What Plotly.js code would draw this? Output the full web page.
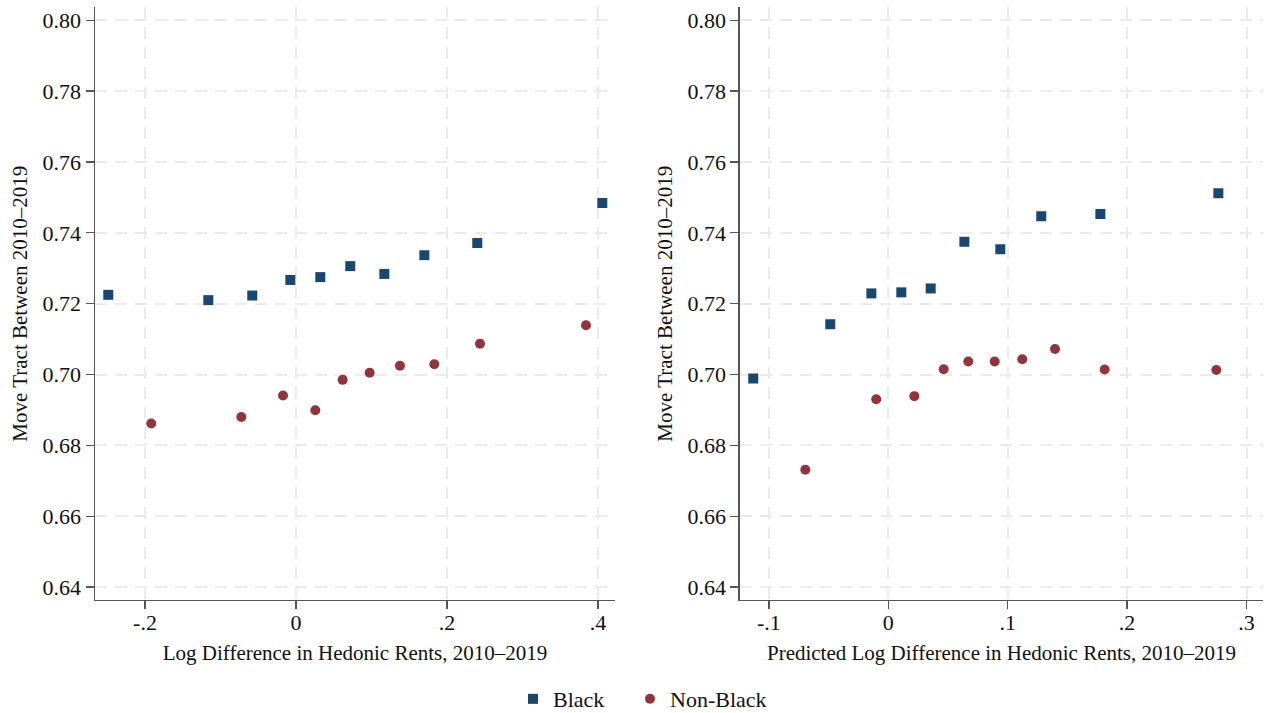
<!DOCTYPE html>
<html>
<head>
<meta charset="utf-8">
<script src="https://cdn.plot.ly/plotly-3.0.1.min.js"></script>
<style>html,body{margin:0;padding:0;background:#fff;}#chart{width:1264px;height:713px;}</style>
</head>
<body>
<div id="chart"></div>
<script>
// Left panel: Log Difference in Hedonic Rents
const leftBlackX = [-0.2486, -0.1161, -0.0579, -0.0075, 0.0322, 0.0719, 0.1170, 0.1700, 0.2401, 0.4057];
const leftBlackY = [0.7225, 0.7210, 0.7223, 0.7267, 0.7275, 0.7306, 0.7284, 0.7337, 0.7371, 0.7484];
const leftNonBlackX = [-0.1917, -0.0724, -0.0172, 0.0256, 0.0618, 0.0976, 0.1377, 0.1832, 0.2437, 0.3841];
const leftNonBlackY = [0.6862, 0.6880, 0.6941, 0.6899, 0.6985, 0.7005, 0.7025, 0.7029, 0.7087, 0.7139];

// Right panel: Predicted Log Difference in Hedonic Rents
const rightBlackX = [-0.1131, -0.0486, -0.0142, 0.0109, 0.0355, 0.0637, 0.0938, 0.1281, 0.1776, 0.2764];
const rightBlackY = [0.6989, 0.7142, 0.7229, 0.7232, 0.7243, 0.7375, 0.7354, 0.7447, 0.7453, 0.7512];
const rightNonBlackX = [-0.0695, -0.0101, 0.0218, 0.0464, 0.0670, 0.0891, 0.1122, 0.1396, 0.1812, 0.2747];
const rightNonBlackY = [0.6731, 0.6930, 0.6939, 0.7015, 0.7037, 0.7037, 0.7043, 0.7072, 0.7014, 0.7013];

const yTickVals = [0.64, 0.66, 0.68, 0.70, 0.72, 0.74, 0.76, 0.78, 0.80];
const yTickText = ["0.64", "0.66", "0.68", "0.70", "0.72", "0.74", "0.76", "0.78", "0.80"];
const leftXTickVals = [-0.2, 0, 0.2, 0.4];
const leftXTickText = ["-.2", "0", ".2", ".4"];
const rightXTickVals = [-0.1, 0, 0.1, 0.2, 0.3];
const rightXTickText = ["-.1", "0", ".1", ".2", ".3"];

const seriesNames = ["Black", "Non-Black"];
const yTitle = "Move Tract Between 2010\u20132019";
const leftXTitle = "Log Difference in Hedonic Rents, 2010\u20132019";
const rightXTitle = "Predicted Log Difference in Hedonic Rents, 2010\u20132019";

const navy = "#1a476f";
const maroon = "#90353b";
const FONT = "'Liberation Serif', 'Times New Roman', serif";

const sqMarker = {symbol: "square", size: 10, color: navy};
const ciMarker = {symbol: "circle", size: 10, color: maroon};

const traces = [
  {x: leftBlackX, y: leftBlackY, type: "scatter", mode: "markers", name: seriesNames[0], marker: sqMarker, xaxis: "x", yaxis: "y", legend: "legend", showlegend: true},
  {x: leftNonBlackX, y: leftNonBlackY, type: "scatter", mode: "markers", name: seriesNames[1], marker: ciMarker, xaxis: "x", yaxis: "y", legend: "legend2", showlegend: true},
  {x: rightBlackX, y: rightBlackY, type: "scatter", mode: "markers", name: seriesNames[0], marker: sqMarker, xaxis: "x2", yaxis: "y2", showlegend: false},
  {x: rightNonBlackX, y: rightNonBlackY, type: "scatter", mode: "markers", name: seriesNames[1], marker: ciMarker, xaxis: "x2", yaxis: "y2", showlegend: false}
];

function yAxis(anchor) {
  return {
    anchor: anchor,
    domain: [0.1585, 0.9895],
    range: [0.63636, 0.80361],
    tickvals: yTickVals, ticktext: yTickText,
    ticks: "outside", ticklen: 8, tickwidth: 1.3, tickcolor: "#555",
    showline: true, linecolor: "#555", linewidth: 1.5,
    showgrid: true, gridcolor: "#ebebeb", gridwidth: 2, griddash: "12px,8px",
    zeroline: false, automargin: false,
    tickfont: {family: FONT, size: 22, color: "#111"},
    title: {text: yTitle, font: {family: FONT, size: 21, color: "#111"}, standoff: 9}
  };
}
function xAxis(anchor, domain, range, vals, text, title) {
  return {
    anchor: anchor,
    domain: domain,
    range: range,
    tickvals: vals, ticktext: text,
    ticks: "outside", ticklen: 8, tickwidth: 1.3, tickcolor: "#555",
    ticklabelstandoff: -6,
    showline: true, linecolor: "#555", linewidth: 1.5,
    showgrid: true, gridcolor: "#ebebeb", gridwidth: 2, griddash: "12px,8px",
    zeroline: false, automargin: false,
    tickfont: {family: FONT, size: 22, color: "#111"},
    title: {text: title, font: {family: FONT, size: 21, color: "#111"}, standoff: 11}
  };
}

function legendAt(xpx) {
  return {
    orientation: "h", x: xpx / 1264, xanchor: "left", y: 0.0196, yanchor: "middle",
    font: {family: FONT, size: 22, color: "#111"},
    itemwidth: 30, bgcolor: "rgba(0,0,0,0)"
  };
}

const layout = {
  width: 1264, height: 713,
  margin: {l: 0, r: 0, t: 0, b: 0, autoexpand: false},
  paper_bgcolor: "#fff", plot_bgcolor: "#fff",
  font: {family: FONT, size: 21, color: "#111"},
  xaxis: xAxis("y", [0.07516, 0.48655], [-0.2662, 0.4225], leftXTickVals, leftXTickText, leftXTitle),
  yaxis: yAxis("x"),
  xaxis2: xAxis("y2", [0.58544, 0.99921], [-0.1242, 0.3138], rightXTickVals, rightXTickText, rightXTitle),
  yaxis2: yAxis("x2"),
  showlegend: true,
  legend: legendAt(513),
  legend2: legendAt(630)
};

Plotly.newPlot("chart", traces, layout, {displayModeBar: false, staticPlot: true});
</script>
</body>
</html>
